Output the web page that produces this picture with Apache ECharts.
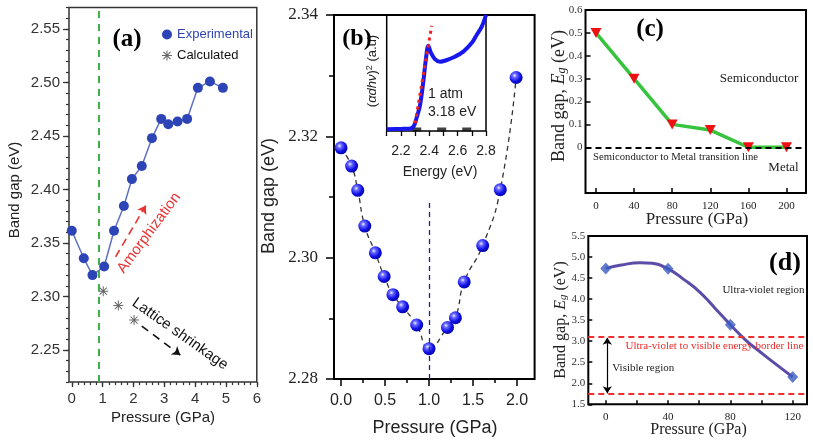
<!DOCTYPE html>
<html><head><meta charset="utf-8">
<script src="https://cdn.jsdelivr.net/npm/echarts@6/dist/echarts.min.js"></script>
<style>html,body{margin:0;padding:0;background:#fff}#c{width:813px;height:443px}</style>
</head><body><div id="c"></div>
<script>
// ---------- DATA ----------
// (a)
const aExpPressure = [0, 0.39, 0.67, 1.05, 1.37, 1.69, 1.95, 2.27, 2.6, 2.9, 3.13, 3.43, 3.74, 4.09, 4.48, 4.9];
const aExpGap      = [2.3615, 2.3357, 2.320, 2.328, 2.3615, 2.3845, 2.4097, 2.422, 2.448, 2.466, 2.461, 2.4635, 2.466, 2.495, 2.501, 2.495];
const aCalcPressure = [1.02, 1.51, 2.02];
const aCalcGap      = [2.305, 2.2915, 2.278];
const aXTicks = [0, 1, 2, 3, 4, 5, 6];
const aYTicks = [2.25, 2.30, 2.35, 2.40, 2.45, 2.50, 2.55];
// (b)
const bPressure = [0, 0.12, 0.19, 0.27, 0.39, 0.49, 0.59, 0.70, 0.86, 1.0, 1.21, 1.30, 1.40, 1.61, 1.81, 1.99];
const bGap      = [2.3181, 2.3151, 2.3111, 2.3052, 2.3008, 2.2969, 2.2939, 2.2919, 2.2889, 2.2850, 2.2885, 2.2901, 2.2960, 2.3020, 2.3112, 2.3297];
const bXTicks = [0, 0.5, 1.0, 1.5, 2.0];
const bXMinor = [0.25, 0.75, 1.25, 1.75];
const bYTicks = [2.28, 2.30, 2.32, 2.34];
const bYMinor = [2.29, 2.31, 2.33];
// (b) inset
const insetEnergy = [2.10, 2.20, 2.26, 2.29, 2.31, 2.335, 2.358, 2.377, 2.393, 2.41, 2.44, 2.476, 2.52, 2.58, 2.64, 2.70, 2.734, 2.77, 2.80];
const insetAbs    = [0.015, 0.018, 0.02, 0.04, 0.11, 0.224, 0.425, 0.627, 0.735, 0.68, 0.62, 0.597, 0.61, 0.64, 0.684, 0.76, 0.828, 0.9, 1.0];
const insetTangentEnergy = [2.30, 2.417];
const insetTangentAbs    = [0.066, 0.908];
const insetMarkEnergy = [2.312, 2.4875, 2.664];
const insetMarkAbs    = [0.013, 0.013, 0.013];
const insetXLabels = [2.2, 2.4, 2.6, 2.8];
const insetXTicks  = [2.1, 2.2, 2.3, 2.4, 2.5, 2.6, 2.7, 2.8];
// (c)
const cPressure = [0, 40, 80, 120, 160, 200];
const cGap      = [0.5, 0.3, 0.1, 0.075, 0, 0];
const cXTicks = [0, 40, 80, 120, 160, 200];
const cYTicks = [0, 0.1, 0.2, 0.3, 0.4, 0.5, 0.6];
// (d)  computed points and the fitted curve
const dPressure = [0, 40, 80, 120];
const dGap      = [4.73, 4.72, 3.39, 2.15];
const dCurvePressure = [0, 10, 22, 30, 40, 50, 60, 70, 80, 90, 100, 110, 120];
const dCurveGap      = [4.73, 4.81, 4.865, 4.85, 4.72, 4.47, 4.18, 3.79, 3.39, 3.02, 2.72, 2.43, 2.15];
const dXLabels = [0, 40, 80, 120];
const dXTicks  = [0, 20, 40, 60, 80, 100, 120];
const dYTicks  = [1.5, 2.0, 2.5, 3.0, 3.5, 4.0, 4.5, 5.0, 5.5];
const dBorderUV = 3.1, dBorderVis = 1.75;

// ---------- HELPERS ----------
const SANS = "'Liberation Sans', Arial, sans-serif";
const SERIF = "'Liberation Serif', 'Times New Roman', serif";
const pairs = (xs, ys) => xs.map((x, i) => [x, ys[i]]);
function steps(a, b, s) { const r = []; for (let v = a; v <= b + 1e-9; v += s) r.push(+v.toFixed(4)); return r; }
const aXMinor = steps(0, 6, 0.2);
const aYMinor = steps(2.22, 2.57, 0.01);
const STAR = 'path://M9,0h2v20h-2z M0,9h20v2h-20z M2.2,3.6L3.6,2.2L17.8,16.4L16.4,17.8z M16.4,2.2L17.8,3.6L3.6,17.8L2.2,16.4z';

function ax(o) {
  return Object.assign({ type: 'value', splitLine: { show: false }, axisLine: { show: false, onZero: false } }, o);
}
function ticks(vals, len, inside, color, width) {
  return { show: true, customValues: vals, length: len, inside: !!inside, lineStyle: { color: color || '#000', width: width || 1.5 } };
}
function labels(vals, font, size, margin, fmt, color) {
  const o = { show: true, customValues: vals, fontFamily: font, fontSize: size, margin: margin, color: color || '#222' };
  if (fmt) o.formatter = fmt;
  return o;
}
const noLabel = { show: false };

// ---------- CHART ----------
const chart = echarts.init(document.getElementById('c'), null, { renderer: 'canvas' });

const grids = [
  { left: 69, top: 7.6, width: 187.8, height: 374.5, show: true, borderColor: '#333', borderWidth: 1.5 },   // a
  { left: 334, top: 15, width: 200.6, height: 364, show: true, borderColor: '#000', borderWidth: 2 },       // b
  { left: 386.7, top: 15, width: 99.3, height: 116, show: true, borderColor: '#000', borderWidth: 1.5 },   // inset
  { left: 585.5, top: 10, width: 220.5, height: 183, show: true, borderColor: '#000', borderWidth: 2 },    // c
  { left: 588.3, top: 236, width: 218.7, height: 168.3, show: true, borderColor: '#000', borderWidth: 2 } // d
];

const xAxes = [
  ax({ gridIndex: 0, position: 'bottom', min: -0.09, max: 6, axisTick: ticks(aXTicks, 5, false, '#333', 1.3), axisLabel: labels(aXTicks, SANS, 15, 9, null, '#333') }),
  ax({ gridIndex: 0, position: 'bottom', min: -0.09, max: 6, axisTick: ticks(aXMinor, 3, false, '#333', 1.2), axisLabel: noLabel }),
  ax({ gridIndex: 1, position: 'bottom', min: -0.08, max: 2.2, axisTick: ticks(bXTicks, 7, false), axisLabel: labels(bXTicks, SANS, 16, 14, v => v.toFixed(1)) }),
  ax({ gridIndex: 1, position: 'bottom', min: -0.08, max: 2.2, axisTick: ticks(bXMinor, 4, false), axisLabel: noLabel }),
  ax({ gridIndex: 2, position: 'bottom', min: 2.1, max: 2.8, axisTick: ticks(insetXTicks, 5, false, '#000', 1.3), axisLabel: labels(insetXLabels, SANS, 14, 13, v => v.toFixed(1)) }),
  ax({ gridIndex: 3, position: 'bottom', min: -11, max: 220.5, axisTick: ticks(cXTicks, 5, true), axisLabel: labels(cXTicks, SERIF, 11, 8) }),
  ax({ gridIndex: 4, position: 'bottom', min: -11.2, max: 129.2, axisTick: ticks(dXTicks, 4, true), axisLabel: labels(dXLabels, SERIF, 11, 7) })
];

const yAxes = [
  ax({ gridIndex: 0, position: 'left', min: 2.22, max: 2.57, axisTick: ticks(aYTicks, 6, false, '#333', 1.3), axisLabel: labels(aYTicks, SANS, 15, 9, v => v.toFixed(2), '#333') }),
  ax({ gridIndex: 0, position: 'left', min: 2.22, max: 2.57, axisTick: ticks(aYMinor, 3, false, '#333', 1.2), axisLabel: noLabel }),
  ax({ gridIndex: 1, position: 'left', min: 2.28, max: 2.34, axisTick: ticks(bYTicks, 8, false), axisLabel: labels(bYTicks, SERIF, 17, 16, v => v.toFixed(2)) }),
  ax({ gridIndex: 1, position: 'left', min: 2.28, max: 2.34, axisTick: ticks(bYMinor, 5, false), axisLabel: noLabel }),
  ax({ gridIndex: 2, position: 'left', min: 0, max: 1, axisTick: { show: false }, axisLabel: noLabel }),
  ax({ gridIndex: 3, position: 'left', min: -0.2, max: 0.6, axisTick: ticks(cYTicks, 5, true), axisLabel: labels(cYTicks, SERIF, 11, 3, v => v === 0 ? '0' : v.toFixed(1), '#333') }),
  ax({ gridIndex: 4, position: 'left', min: 1.5, max: 5.5, axisTick: ticks(dYTicks, 4, true), axisLabel: labels(dYTicks, SERIF, 11, 3, v => v.toFixed(1), '#333') })
];

const sphere = {
  type: 'radial', x: 0.38, y: 0.35, r: 0.75,
  colorStops: [
    { offset: 0, color: '#f0f0ff' },
    { offset: 0.22, color: '#6a6aff' },
    { offset: 0.6, color: '#1010e8' },
    { offset: 1, color: '#00008a' }
  ]
};

const series = [
  // (a) experimental
  {
    name: 'Experimental', type: 'line', xAxisIndex: 0, yAxisIndex: 0, data: pairs(aExpPressure, aExpGap),
    symbol: 'circle', symbolSize: 10, itemStyle: { color: '#2d44b6' }, lineStyle: { color: '#5f70c4', width: 1.5 }, z: 4,
    markLine: {
      silent: true, symbol: 'none', label: { show: false },
      data: [{ xAxis: 0.86, lineStyle: { color: '#3fae4b', width: 2, type: [7, 6] } }]
    }
  },
  // (a) calculated
  {
    name: 'Calculated', type: 'scatter', xAxisIndex: 0, yAxisIndex: 0, data: pairs(aCalcPressure, aCalcGap),
    symbol: STAR, symbolSize: 10, itemStyle: { color: '#444' },
    markLine: {
      silent: true, symbol: ['none', 'arrow'], symbolSize: 8, label: { show: false },
      data: [
        [{ coord: [1.42, 2.337], lineStyle: { color: '#e83333', width: 1.6, type: [8, 5] } }, { coord: [2.40, 2.385] }],
        [{ coord: [2.27, 2.2724], lineStyle: { color: '#111', width: 1.6, type: [8, 6] } }, { coord: [3.52, 2.2453] }]
      ]
    }
  },
  // (b) main
  {
    name: 'b', type: 'line', xAxisIndex: 2, yAxisIndex: 2, data: pairs(bPressure, bGap), smooth: true,
    symbol: 'circle', symbolSize: 13, itemStyle: { color: sphere }, lineStyle: { color: '#333', width: 1.3, type: [5, 4] }, z: 4,
    markLine: {
      silent: true, symbol: 'none', label: { show: false },
      data: [[{ coord: [1.0, 2.28], lineStyle: { color: '#22228a', width: 1.3, type: [5, 4] } }, { coord: [1.0, 2.309] }]]
    }
  },
  // (b) inset
  {
    name: 'inset', type: 'line', xAxisIndex: 4, yAxisIndex: 4, data: pairs(insetEnergy, insetAbs), smooth: 0.35,
    symbol: 'none', lineStyle: { color: '#1818ee', width: 4 }
  },
  {
    name: 'tangent', type: 'line', xAxisIndex: 4, yAxisIndex: 4, data: pairs(insetTangentEnergy, insetTangentAbs),
    symbol: 'none', lineStyle: { color: '#ee2222', width: 3, type: [3, 4] }, z: 5
  },
  {
    name: 'marks', type: 'scatter', xAxisIndex: 4, yAxisIndex: 4, data: pairs(insetMarkEnergy, insetMarkAbs),
    symbol: 'rect', symbolSize: [9, 4], itemStyle: { color: '#111' }
  },
  // (c)
  {
    name: 'c', type: 'line', xAxisIndex: 5, yAxisIndex: 5, data: pairs(cPressure, cGap),
    symbol: 'triangle', symbolRotate: 180, symbolSize: [11, 10], itemStyle: { color: '#ee1111' },
    lineStyle: { color: '#36c43c', width: 3.5 }, z: 4,
    markLine: {
      silent: true, symbol: 'none', label: { show: false }, z: 5,
      data: [{ yAxis: 0, lineStyle: { color: '#000', width: 2, type: [6, 4] } }]
    }
  },
  // (d) fitted curve
  {
    name: 'dCurve', type: 'line', xAxisIndex: 6, yAxisIndex: 6, data: pairs(dCurvePressure, dCurveGap), smooth: true,
    symbol: 'none', lineStyle: { color: '#5b4ca8', width: 3 }, z: 3,
    markLine: {
      silent: true, symbol: 'none', label: { show: false },
      data: [
        { yAxis: dBorderUV, lineStyle: { color: '#f03030', width: 2, type: [6, 4] } },
        { yAxis: dBorderVis, lineStyle: { color: '#f03030', width: 2, type: [6, 4] } },
        [{ coord: [1, 3.08], symbol: 'arrow', symbolSize: 7, lineStyle: { color: '#000', width: 1.2, type: 'solid' } },
         { coord: [1, 1.76], symbol: 'arrow', symbolSize: 7 }]
      ]
    }
  },
  // (d) points
  {
    name: 'd', type: 'scatter', xAxisIndex: 6, yAxisIndex: 6, data: pairs(dPressure, dGap),
    symbol: 'diamond', symbolSize: [11, 12], itemStyle: { color: '#3a5cc0' }, z: 4
  }
];

function T(x, y, text, font, size, opt) {
  opt = opt || {};
  return {
    type: 'text', x: x, y: y, rotation: opt.rot || 0, z: 100,
    style: Object.assign({
      text: text, fontFamily: font, fontSize: size, fontWeight: opt.bold ? 'bold' : 'normal',
      fill: opt.color || '#222', align: opt.align || 'center', verticalAlign: 'middle'
    }, opt.rich ? { rich: opt.rich } : {})
  };
}
const R90 = Math.PI / 2;
function egRich(size) {
  return {
    n: { fontFamily: SERIF, fontSize: size, fill: '#222', color: '#222' },
    i: { fontFamily: SERIF, fontSize: size, fontStyle: 'italic', fill: '#222', color: '#222' },
    s: { fontFamily: SERIF, fontSize: Math.round(size * 0.68), fontStyle: 'italic', fill: '#222', color: '#222', verticalAlign: 'bottom', lineHeight: 6 }
  };
}
const insetRich = {
  n: { fontFamily: SANS, fontSize: 13, fill: '#222', color: '#222' },
  i: { fontFamily: SANS, fontSize: 13, fontStyle: 'italic', fill: '#222', color: '#222' },
  p: { fontFamily: SANS, fontSize: 9, fill: '#222', color: '#222', verticalAlign: 'top', lineHeight: 6 }
};

const graphic = [
  // axis titles
  T(15, 190, 'Band gap (eV)', SANS, 15, { rot: R90 }),
  T(163, 418, 'Pressure (GPa)', SANS, 15),
  T(269, 196, 'Band gap (eV)', SANS, 18, { rot: R90 }),
  T(435, 428, 'Pressure (GPa)', SANS, 18),
  T(372, 71, '{n|(}{i|αdhν}{n|)}{p|2}{n| (a.u)}', SANS, 13, { rot: R90, rich: insetRich }),
  T(440, 172, 'Energy (eV)', SANS, 14),
  T(559, 96, '{n|Band gap, }{i|E}{s|g}{n| (eV)}', SERIF, 18, { rot: R90, rich: egRich(18) }),
  T(697, 220, 'Pressure (GPa)', SERIF, 17),
  T(561, 320, '{n|Band gap, }{i|E}{s|g}{n| (eV)}', SERIF, 16, { rot: R90, rich: egRich(16) }),
  T(698.5, 430, 'Pressure (GPa)', SERIF, 16),
  // panel letters
  T(127, 40, '(a)', SERIF, 25, { bold: true, color: '#000' }),
  T(357, 39, '(b)', SERIF, 24, { bold: true, color: '#000' }),
  T(650, 30, '(c)', SERIF, 25, { bold: true, color: '#000' }),
  T(785, 263, '(d)', SERIF, 26, { bold: true, color: '#000' }),
  // annotations
  T(149, 233, 'Amorphization', SANS, 15, { rot: 0.934, color: '#e83333' }),
  T(180, 334, 'Lattice shrinkage', SANS, 15, { rot: -0.614, color: '#111' }),
  T(428, 94, '1 atm', SANS, 14, { align: 'left' }),
  T(428, 112, '3.18 eV', SANS, 14, { align: 'left' }),
  T(759, 79, 'Semiconductor', SERIF, 13),
  T(783.5, 168, 'Metal', SERIF, 13),
  T(675.5, 157, 'Semiconductor to Metal transition line', SERIF, 10.7),
  T(763.5, 290, 'Ultra-violet region', SERIF, 11),
  T(714.5, 346, 'Ultra-violet to visible energy border line', SERIF, 11, { color: '#ee2b2b' }),
  T(643.3, 368, 'Visible region', SERIF, 11)
];

chart.setOption({
  animation: false,
  backgroundColor: '#fff',
  grid: grids,
  xAxis: xAxes,
  yAxis: yAxes,
  legend: {
    orient: 'vertical', left: 157, top: 23, itemWidth: 10, itemHeight: 10, itemGap: 8,
    textStyle: { fontFamily: SANS, fontSize: 13 },
    data: [
      { name: 'Experimental', icon: 'circle', textStyle: { color: '#2f44b0' } },
      { name: 'Calculated', icon: STAR, textStyle: { color: '#111' } }
    ]
  },
  series: series,
  graphic: graphic
});
</script>
</body></html>
